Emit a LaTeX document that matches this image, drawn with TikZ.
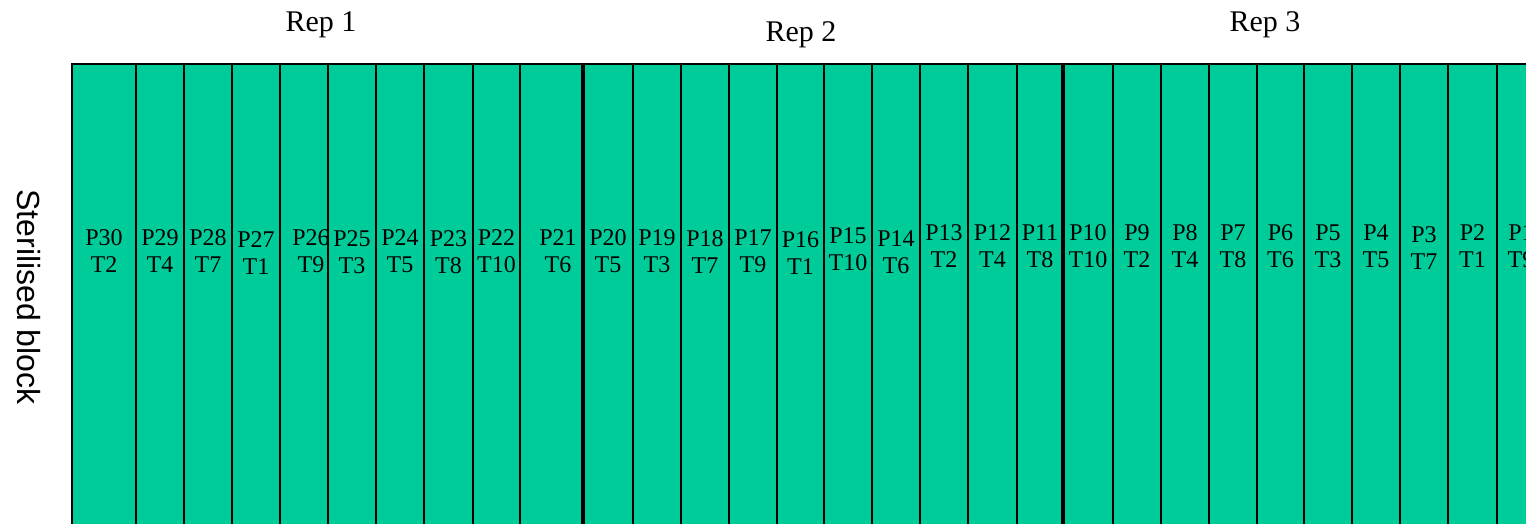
\documentclass[tikz,border=0pt]{standalone}
\usepackage{fontspec}
\setmainfont{Liberation Serif}
\newfontfamily\arialf{Liberation Sans}
\definecolor{plotgreen}{RGB}{0,204,153}
\begin{document}
\begin{tikzpicture}[x=1pt,y=-1pt,
  lbl/.style={align=center, inner sep=0pt, font=\fontsize{24}{27}\selectfont},
  replbl/.style={inner sep=0pt, anchor=base, font=\fontsize{30}{34}\selectfont},
  sideLbl/.style={inner sep=0pt, anchor=base, rotate=-90, font=\arialf\fontsize{32}{36}\selectfont},
  sepline/.style={line width=1.6pt},
  repline/.style={line width=3.5pt},
  frameline/.style={line width=2.5pt}
]
\clip (0,0) rectangle (1526,524);
\fill[white] (0,0) rectangle (1526,524);
% field
\fill[plotgreen] (72,64) rectangle (1600,600);
\foreach \x in {136,184,232,280,328,376,424,473,520,633,681,729,777,824,872,920,968,1017,1113,1161,1209,1257,1304,1352,1400,1448,1497}
  \draw[sepline] (\x,64) -- (\x,600);
\draw[repline] (583,64) -- (583,600);
\draw[repline] (1063,64) -- (1063,600);
\draw[frameline] (72,600) -- (72,64) -- (1600,64);
% plot labels
\foreach \xc/\yc/\p/\t in {
  104/251/30/2, 160/251/29/4, 208/251/28/7, 256/253/27/1, 311/251/26/9,
  352/252/25/3, 400/251/24/5, 448.5/252/23/8, 496.5/251/22/10, 558/251/21/6,
  608/251/20/5, 657/251/19/3, 705/252/18/7, 753/251/17/9, 800.5/253/16/1,
  848/249/15/10, 896/252/14/6, 944/246/13/2, 992.5/246/12/4, 1040/246/11/8,
  1088/246/10/10, 1137/246/9/2, 1185/246/8/4, 1233/246/7/8, 1280.5/246/6/6,
  1328/246/5/3, 1376/246/4/5, 1424/248.5/3/7, 1472.5/246/2/1, 1521/246/1/9}
  \node[lbl] (p\p) at (\xc,\yc) {P\p\\T\t};
% rep labels
\node[replbl] (rep1) at (321,32) {Rep 1};
\node[replbl] (rep2) at (801,42) {Rep 2};
\node[replbl] (rep3) at (1265,32) {Rep 3};
% side label
\node[sideLbl] (side) at (17.5,297) {Sterilised block};
\end{tikzpicture}
\end{document}
